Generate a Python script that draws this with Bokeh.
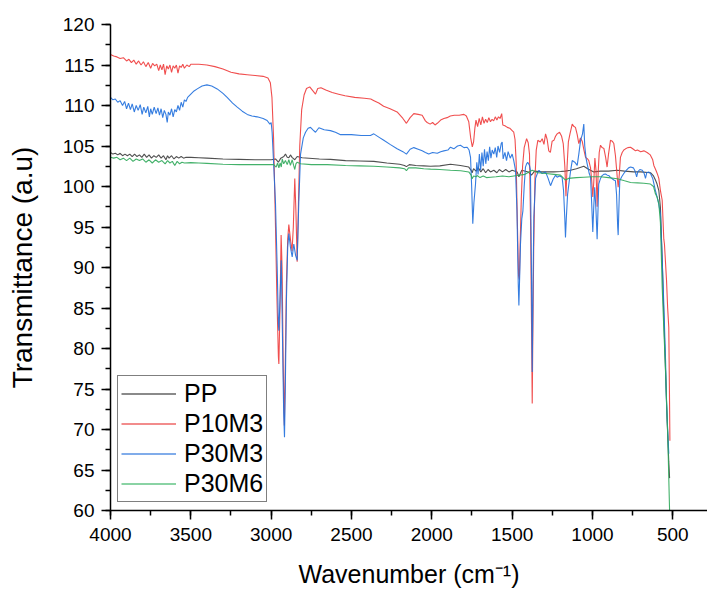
from bokeh.plotting import figure
from bokeh.models import Range1d, SingleIntervalTicker, Legend, LegendItem
from bokeh.embed import file_html
from bokeh.resources import INLINE

# ---------------- data ----------------
series_names = ["PP", "P10M3", "P30M3", "P30M6"]

pp_wn = [4000, 3985, 3970, 3955, 3940, 3925, 3910, 3895, 3880, 3865, 3850, 3835, 3820, 3805, 3790,
         3775, 3760, 3745, 3730, 3715, 3700, 3685, 3670, 3655, 3645, 3635, 3620, 3605, 3590, 3575,
         3560, 3545, 3530, 3500, 3450, 3400, 3300, 3200, 3100, 3000, 2973, 2955, 2940, 2921, 2911,
         2900, 2890, 2880, 2870, 2853, 2838, 2807, 2700, 2631, 2537, 2450, 2361, 2280, 2200, 2170,
         2158, 2140, 2100, 2050, 2008, 1950, 1884, 1822, 1770, 1755, 1749, 1740, 1725, 1710, 1695,
         1680, 1665, 1650, 1635, 1614, 1595, 1580, 1560, 1540, 1520, 1500, 1469, 1458, 1440, 1400,
         1380, 1360, 1320, 1280, 1240, 1199, 1170, 1137, 1100, 1054, 1030, 992, 950, 900, 846,
         800, 743, 700, 639, 620, 608, 598, 587, 577, 566, 556, 545, 535, 525, 520]
pp_t = [104.2, 104.0, 104.1, 103.9, 104.1, 103.8, 104.0, 103.8, 104.0, 103.7, 104.0, 103.7, 103.9, 103.6, 104.0,
        103.6, 103.9, 103.5, 103.8, 103.6, 103.9, 103.5, 103.8, 103.3, 103.8, 103.5, 103.8, 103.4, 103.7, 103.5,
        103.7, 103.5, 103.6, 103.6, 103.55, 103.5, 103.4, 103.35, 103.3, 103.3, 103.4, 103.0, 103.5, 103.7, 104.0,
        103.6, 103.55, 103.9, 103.6, 103.3, 103.7, 103.55, 103.4, 103.35, 103.2, 103.15, 103.1, 102.9, 102.75, 102.6,
        102.45, 102.7, 102.6, 102.55, 102.5, 102.55, 102.75, 102.6, 102.4, 102.0, 101.7, 102.2, 101.9, 102.3, 101.8,
        102.2, 101.7, 102.1, 101.8, 102.0, 101.7, 102.1, 101.8, 102.1, 101.8, 102.0, 101.8, 101.2, 102.0, 101.8,
        101.4, 101.9, 101.8, 101.8, 101.8, 101.85, 101.9, 102.0, 102.2, 102.5, 102.2, 101.8, 101.9, 101.9, 102.0,
        101.9, 101.8, 101.8, 101.7, 101.3, 100.8, 100.3, 99.5, 97.4, 91.0, 84.0, 77.0, 71.0, 66.0, 64.0]

p10m3_wn = [4000, 3980, 3960, 3940, 3920, 3900, 3885, 3870, 3855, 3840, 3825, 3810, 3795, 3780, 3765,
            3750, 3738, 3725, 3712, 3700, 3690, 3680, 3670, 3660, 3650, 3640, 3630, 3620, 3610, 3600,
            3590, 3580, 3570, 3560, 3550, 3540, 3525, 3510, 3500, 3450, 3400, 3350, 3300, 3250, 3200,
            3150, 3100, 3050, 3020, 3005, 2995, 2985, 2975, 2965, 2955, 2952, 2945, 2938, 2932, 2925,
            2918, 2912, 2905, 2897, 2890, 2880, 2870, 2862, 2853, 2846, 2838, 2830, 2822, 2810, 2795,
            2780, 2760, 2740, 2724, 2710, 2690, 2660, 2620, 2580, 2540, 2480, 2420, 2380, 2360, 2330,
            2300, 2260, 2216, 2180, 2158, 2135, 2112, 2085, 2060, 2040, 2029, 2010, 1995, 1980, 1966,
            1945, 1925, 1905, 1885, 1860, 1830, 1800, 1785, 1770, 1758, 1748, 1740, 1732, 1725, 1715,
            1705, 1695, 1685, 1675, 1665, 1655, 1645, 1635, 1625, 1615, 1605, 1595, 1585, 1575, 1565,
            1558, 1545, 1530, 1515, 1500, 1490, 1482, 1475, 1468, 1460, 1455, 1450, 1443, 1435, 1425,
            1410, 1400, 1392, 1385, 1378, 1375, 1372, 1366, 1358, 1350, 1340, 1325, 1313, 1302, 1292,
            1282, 1272, 1262, 1251, 1240, 1230, 1220, 1205, 1192, 1182, 1172, 1165, 1158, 1150, 1140,
            1126, 1115, 1106, 1095, 1085, 1075, 1064, 1053, 1043, 1030, 1023, 1012, 1005, 998, 992,
            985, 978, 971, 965, 958, 950, 940, 929, 918, 909, 900, 888, 877, 867, 857,
            846, 840, 833, 826, 815, 805, 794, 780, 763, 745, 732, 720, 700, 680, 660,
            640, 625, 618, 605, 595, 587, 577, 566, 556, 552, 545, 539, 532, 525, 521, 518]
p10m3_t = [116.3, 116.1, 116.0, 115.8, 115.9, 115.5, 115.7, 115.3, 115.6, 115.1, 115.5, 115.0, 115.4, 114.8, 115.3,
           114.6, 115.2, 114.9, 115.1, 114.3, 115.0, 114.4, 115.1, 113.8, 114.9, 114.5, 115.0, 114.1, 114.9, 114.6,
           115.0, 114.0, 114.9, 114.7, 115.1, 114.6, 115.0, 114.8, 115.1, 115.1, 115.0, 114.8, 114.5, 114.1, 113.9,
           113.8, 113.7, 113.6, 113.4, 112.8, 111.0, 106.0, 97.0, 87.0, 79.0, 78.1, 85.0, 94.0, 90.0, 78.0,
           70.5, 78.0, 88.0, 93.5, 95.3, 93.5, 92.0, 95.0, 101.0, 97.0, 90.7, 98.0, 105.0, 109.5, 111.3,
           112.1, 112.3, 111.8, 111.4, 112.1, 112.2, 111.9, 111.6, 111.4, 111.2, 111.0, 110.9, 110.8, 110.6, 110.3,
           109.9, 109.6, 109.2, 108.4, 107.8, 108.5, 109.0, 108.9, 108.8, 108.1, 107.9, 107.7, 107.9, 107.6, 107.8,
           108.2, 108.4, 108.5, 108.7, 108.8, 108.8, 108.9, 108.7, 108.0, 106.0, 104.9, 105.5, 107.2, 108.2, 107.4,
           108.4, 107.6, 108.6, 107.8, 108.3, 107.9, 108.5, 108.0, 108.3, 108.1, 108.6, 108.2, 108.6, 108.4, 109.0,
           107.6, 107.5, 107.3, 107.2, 106.9, 106.7, 105.8, 103.0, 96.0, 89.0, 88.5, 93.0, 98.5, 102.5, 104.8,
           105.9, 105.4, 104.0, 95.0, 80.0, 73.2, 80.0, 92.0, 101.0, 104.5, 105.7, 105.5, 105.9, 105.2, 106.5,
           105.8, 104.4, 104.2, 105.6, 105.7, 106.2, 106.5, 106.7, 106.2, 105.3, 102.5, 98.8, 102.5, 105.5, 106.5,
           107.7, 107.4, 107.3, 106.4, 105.3, 106.0, 105.6, 104.5, 103.6, 103.4, 103.2, 102.3, 100.8, 98.7, 100.5,
           103.5, 102.0, 97.5, 101.5, 104.2, 105.1, 104.8, 104.7, 103.6, 102.4, 104.0, 105.7, 105.6, 105.3, 103.8,
           101.2, 99.9, 101.5, 103.6, 104.2, 104.5, 104.65, 104.8, 104.85, 104.6, 104.4, 104.5, 104.3, 104.4, 104.2,
           103.9, 103.3, 102.6, 102.0, 101.5, 101.0, 99.5, 98.3, 93.5, 92.9, 90.5, 88.4, 85.0, 82.6, 75.0, 68.6]

p30m3_wn = [4000, 3985, 3970, 3955, 3940, 3925, 3912, 3900, 3888, 3876, 3865, 3852, 3840, 3828, 3815,
            3803, 3793, 3780, 3768, 3758, 3750, 3740, 3728, 3716, 3705, 3695, 3685, 3675, 3665, 3655,
            3647, 3640, 3630, 3620, 3610, 3600, 3590, 3580, 3570, 3560, 3550, 3540, 3530, 3520, 3500,
            3480, 3460, 3430, 3400, 3370, 3336, 3300, 3274, 3240, 3211, 3180, 3149, 3120, 3087, 3050,
            3025, 3008, 3000, 2994, 2985, 2973, 2962, 2955, 2952, 2945, 2937, 2930, 2922, 2917, 2912,
            2905, 2897, 2890, 2880, 2869, 2859, 2848, 2838, 2828, 2817, 2800, 2786, 2770, 2755, 2740,
            2724, 2703, 2670, 2631, 2600, 2568, 2500, 2440, 2382, 2361, 2330, 2299, 2260, 2216, 2180,
            2158, 2135, 2112, 2085, 2060, 2040, 2019, 1995, 1966, 1945, 1925, 1900, 1884, 1863, 1840,
            1822, 1800, 1780, 1768, 1759, 1752, 1745, 1738, 1728, 1720, 1712, 1704, 1696, 1688, 1680,
            1672, 1664, 1656, 1648, 1640, 1632, 1624, 1614, 1605, 1596, 1588, 1578, 1568, 1562, 1556,
            1545, 1535, 1525, 1512, 1500, 1490, 1479, 1470, 1462, 1458, 1453, 1448, 1440, 1433, 1425,
            1417, 1410, 1403, 1392, 1386, 1380, 1375, 1370, 1365, 1354, 1343, 1333, 1313, 1292, 1276,
            1261, 1245, 1230, 1220, 1205, 1189, 1180, 1172, 1168, 1163, 1155, 1147, 1137, 1126, 1110,
            1095, 1085, 1074, 1062, 1054, 1048, 1040, 1033, 1020, 1012, 1005, 998, 992, 986, 978,
            971, 965, 961, 950, 940, 930, 919, 908, 898, 887, 877, 867, 857, 850, 843,
            840, 836, 830, 818, 805, 790, 775, 763, 745, 735, 725, 718, 705, 690, 678,
            670, 662, 650, 639, 625, 608, 595, 587, 577, 566, 556, 545, 539, 532, 525]
p30m3_t = [111.0, 110.7, 110.8, 110.4, 110.6, 110.0, 110.5, 109.6, 110.3, 109.5, 110.2, 109.2, 110.0, 109.4, 110.1,
           108.9, 109.8, 109.1, 109.9, 108.6, 109.6, 108.9, 109.8, 109.0, 109.7, 108.8, 109.6, 108.5, 109.4, 108.9,
           107.9, 109.2, 108.8, 109.6, 108.6, 109.5, 109.2, 110.0, 109.4, 110.4, 109.8, 110.7, 110.5, 111.0, 111.4,
           111.8, 112.05, 112.4, 112.55, 112.4, 112.05, 111.5, 111.0, 110.3, 109.8, 109.3, 108.9, 108.7, 108.6, 108.4,
           108.15, 107.7, 107.9, 106.7, 103.0, 97.9, 89.6, 83.0, 82.2, 86.0, 90.9, 82.0, 72.0, 69.05, 75.0,
           86.0, 92.5, 94.2, 92.5, 91.3, 92.9, 91.5, 90.9, 98.0, 104.0, 106.0, 106.7, 107.2, 107.3, 107.0,
           106.7, 107.25, 107.0, 106.9, 106.7, 106.4, 106.4, 106.3, 106.3, 106.5, 106.1, 105.7, 105.2, 104.65, 104.3,
           104.0, 104.6, 104.8, 104.6, 104.4, 104.2, 104.0, 104.2, 104.1, 104.3, 104.4, 104.5, 104.85, 104.65, 105.0,
           105.1, 104.8, 104.85, 104.5, 103.6, 100.0, 95.4, 98.0, 100.3, 103.0, 101.5, 104.0, 102.0, 104.2, 102.5,
           104.6, 102.8, 104.3, 103.2, 104.9, 103.5, 104.5, 104.0, 104.8, 103.6, 105.0, 104.2, 105.3, 105.5, 103.4,
           104.2, 103.2, 104.3, 103.5, 104.0, 103.2, 102.0, 97.0, 88.0, 85.3, 89.0, 92.9, 96.0, 97.0, 100.0,
           102.4, 102.8, 103.0, 102.6, 102.0, 90.0, 77.1, 88.0, 96.2, 101.0, 101.6, 102.0, 101.6, 101.8, 101.0,
           100.1, 100.9, 101.4, 101.15, 101.3, 101.15, 99.5, 96.0, 93.7, 96.0, 99.0, 100.3, 101.8, 103.2, 103.0,
           102.6, 104.0, 105.7, 106.5, 107.7, 105.0, 103.5, 102.8, 101.6, 101.15, 98.0, 94.4, 97.5, 99.9, 97.0,
           93.5, 97.5, 100.3, 101.0, 101.35, 101.5, 101.55, 101.4, 101.35, 101.1, 100.95, 100.8, 100.7, 99.0, 95.0,
           94.0, 97.0, 100.7, 101.2, 101.6, 102.0, 102.3, 102.4, 102.3, 101.9, 101.2, 101.8, 102.1, 102.0, 101.6,
           101.0, 101.7, 101.8, 101.6, 101.0, 99.5, 98.5, 97.8, 96.6, 91.0, 85.5, 78.5, 73.2, 70.0, 67.0]

p30m6_wn = [4000, 3980, 3960, 3940, 3920, 3900, 3880, 3860, 3840, 3820, 3800, 3780, 3760, 3740, 3720,
            3700, 3680, 3660, 3645, 3630, 3615, 3600, 3585, 3570, 3555, 3540, 3500, 3450, 3400, 3300,
            3200, 3100, 3004, 2984, 2969, 2960, 2952, 2944, 2937, 2931, 2922, 2911, 2900, 2890, 2880,
            2869, 2860, 2853, 2846, 2838, 2817, 2750, 2650, 2537, 2450, 2361, 2280, 2200, 2170, 2158,
            2145, 2100, 2050, 2008, 1950, 1884, 1820, 1770, 1755, 1749, 1740, 1725, 1718, 1700, 1680,
            1660, 1635, 1600, 1560, 1520, 1469, 1420, 1375, 1340, 1290, 1240, 1199, 1168, 1150, 1100,
            1054, 1000, 950, 900, 846, 800, 763, 720, 680, 639, 620, 608, 598, 587, 577,
            566, 555, 545, 538, 531, 525, 520]
p30m6_t = [103.6, 103.5, 103.6, 103.3, 103.5, 103.2, 103.5, 103.1, 103.4, 103.2, 103.4, 103.0, 103.3, 102.9, 103.3,
           103.0, 103.2, 102.8, 103.2, 102.9, 103.1, 102.6, 103.1, 102.8, 103.0, 102.9, 102.95, 102.9, 102.85, 102.75,
           102.7, 102.7, 102.7, 102.7, 102.4, 102.9, 102.3, 102.9, 102.4, 103.4, 102.8, 103.2, 102.7, 103.3, 102.6,
           103.3, 102.6, 102.1, 102.8, 103.0, 102.8, 102.7, 102.7, 102.6, 102.55, 102.5, 102.4, 102.3, 102.2, 101.95,
           102.3, 102.3, 102.2, 102.15, 102.1, 102.0, 101.95, 101.8, 101.4, 100.95, 101.3, 101.2, 101.35, 101.1, 101.3,
           101.1, 101.15, 101.2, 101.3, 101.2, 101.35, 101.5, 102.0, 101.7, 101.6, 101.5, 101.4, 100.8, 101.0, 101.1,
           101.15, 101.2, 101.2, 101.1, 100.95, 100.7, 100.5, 100.45, 100.4, 100.3, 100.0, 99.1, 98.7, 97.9, 95.5,
           87.6, 82.0, 77.3, 73.0, 69.05, 64.0, 60.0]

x_ticks_interval = 500
y_ticks_interval = 5

series = [
    ("PP", pp_wn, pp_t, "#3d3d3d", "#8a8a8a"),
    ("P10M3", p10m3_wn, p10m3_t, "#ee3b3b", "#f28c8c"),
    ("P30M3", p30m3_wn, p30m3_t, "#1f6fdd", "#80acea"),
    ("P30M6", p30m6_wn, p30m6_t, "#2fa85a", "#8ad3a4"),
]

# ---------------- figure ----------------
FONT = "Liberation Sans"
NAN = float("nan")
p = figure(width=707, height=590, output_backend="svg", toolbar_location=None,
           x_range=Range1d(4000, 284), y_range=Range1d(60, 120),
           min_border_left=110, min_border_right=0, min_border_top=24, min_border_bottom=80)
p.outline_line_color = None
p.xgrid.visible = False
p.ygrid.visible = False
p.background_fill_color = "white"
p.border_fill_color = "white"

items = []
for name, wn, tv, col, lcol in series:
    p.line(wn, tv, line_color=col, line_width=1.1, line_alpha=0.9)
    # legend-only sample (a single NaN, so nothing shows in the plot), lighter as in the reference key
    key = p.line([NAN], [NAN], line_color=lcol, line_width=2)
    items.append(LegendItem(label=name, renderers=[key]))

for ax, interval, label, lsize in ((p.xaxis[0], x_ticks_interval, "Wavenumber (cm\u207b\u00b9)", "25px"),
                                   (p.yaxis[0], y_ticks_interval, "Transmittance (a.u)", "28px")):
    ax.ticker = SingleIntervalTicker(interval=interval, num_minor_ticks=2)
    ax.axis_label = label
    ax.axis_label_text_font = FONT
    ax.axis_label_text_font_style = "normal"
    ax.axis_label_text_font_size = lsize
    ax.axis_label_text_color = "black"
    ax.major_label_text_font = FONT
    ax.major_label_text_font_size = "19px"
    ax.major_label_text_color = "black"
    ax.axis_line_color = "black"
    ax.axis_line_width = 1.5
    ax.major_tick_line_color = "black"
    ax.major_tick_line_width = 1.5
    ax.minor_tick_line_color = "black"
    ax.minor_tick_line_width = 1.5
    ax.major_tick_in = 0
    ax.major_tick_out = 9
    ax.minor_tick_in = 0
    ax.minor_tick_out = 5

p.xaxis[0].major_label_standoff = 8
p.xaxis[0].axis_label_standoff = 16
p.yaxis[0].major_label_standoff = 7
p.yaxis[0].axis_label_standoff = 22

legend = Legend(items=items, location=(7, 8))
legend.border_line_color = "black"
legend.border_line_width = 1
legend.background_fill_color = "white"
legend.background_fill_alpha = 1
legend.padding = 3
legend.spacing = 1
legend.margin = 0
legend.glyph_width = 55
legend.glyph_height = 25
legend.label_height = 25
legend.label_standoff = 8
legend.label_text_font = FONT
legend.label_text_font_size = "25px"
legend.label_text_color = "black"
p.add_layout(legend)

open("out.html", "w").write(file_html(p, INLINE))
